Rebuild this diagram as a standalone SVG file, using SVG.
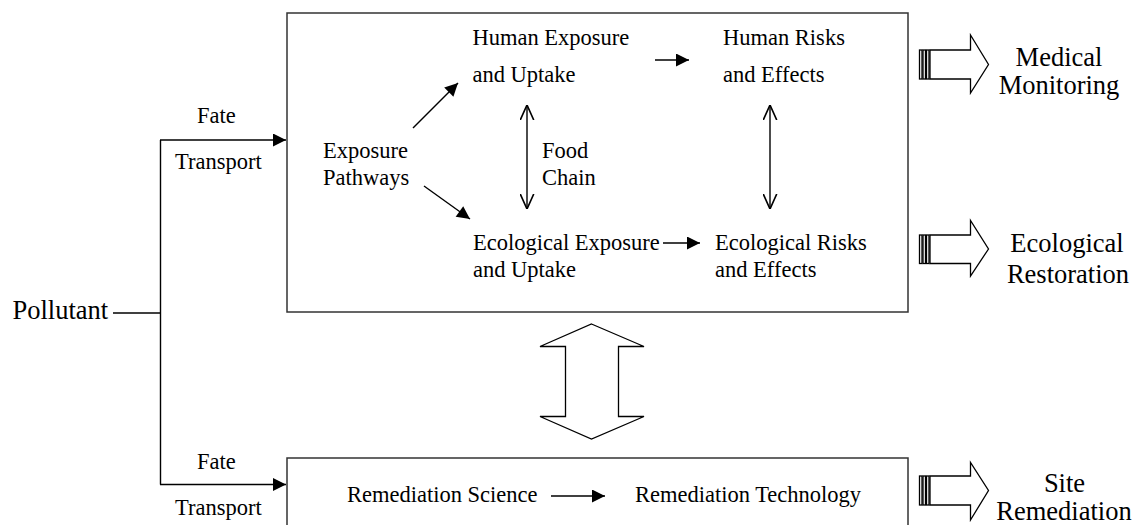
<svg xmlns="http://www.w3.org/2000/svg" width="1134" height="525" viewBox="0 0 1134 525">
<style>
.t{font-family:"Liberation Serif","Times New Roman",serif;font-size:22.5px;fill:#000}
.b{font-family:"Liberation Serif","Times New Roman",serif;font-size:26.5px;fill:#000}
.box{fill:none;stroke:#333;stroke-width:1.5}
.ln{fill:none;stroke:#000;stroke-width:1.4}
.blk{fill:#fff;stroke:#000;stroke-width:1.3}
</style>
<defs>
<marker id="fa" viewBox="0 0 10 10" refX="10" refY="5" markerWidth="16" markerHeight="13" markerUnits="userSpaceOnUse" orient="auto"><path d="M0,0 L10,5 L0,10 z" fill="#000"/></marker>
<marker id="oa" viewBox="0 0 10 10" refX="10" refY="5" markerWidth="15" markerHeight="15" markerUnits="userSpaceOnUse" orient="auto-start-reverse"><path d="M0,0.5 L10,5 L0,9.5" fill="none" stroke="#000" stroke-width="1.1"/></marker>
</defs>

<g id="containers">
<rect id="main-box" class="box" x="287" y="13" width="621" height="299"/>
<rect id="remediation-box" class="box" x="287" y="458" width="621" height="80"/>
</g>

<g id="connectors">
<path class="ln" d="M113,313 H160.5"/>
<path class="ln" d="M160.5,140 V484.5"/>
<path class="ln" d="M160,140 H286" marker-end="url(#fa)"/>
<path class="ln" d="M160,484.5 H286" marker-end="url(#fa)"/>
<path class="ln" d="M413,128 L458,83" marker-end="url(#fa)"/>
<path class="ln" d="M424,186 L470,219" marker-end="url(#fa)"/>
<path class="ln" d="M655,60 H689" marker-end="url(#fa)"/>
<path class="ln" d="M663,243 H700" marker-end="url(#fa)"/>
<path class="ln" d="M551,496 H605" marker-end="url(#fa)"/>
<path class="ln" d="M527,105 V209" marker-start="url(#oa)" marker-end="url(#oa)"/>
<path class="ln" d="M770,105 V209" marker-start="url(#oa)" marker-end="url(#oa)"/>
<polygon id="big-double-arrow" class="blk" points="591.5,324 644,346.5 618.5,346.5 618.5,416.5 644,416.5 591.5,439 540,416.5 565.5,416.5 565.5,346.5 540,346.5"/>
</g>

<g id="node-pollutant"><text class="b" x="12.5" y="318.5">Pollutant</text></g>
<g id="label-fate-top"><text class="t" x="197" y="122.5">Fate</text><text class="t" x="175" y="168.5">Transport</text></g>
<g id="label-fate-bottom"><text class="t" x="197" y="468.5">Fate</text><text class="t" x="175" y="515">Transport</text></g>

<g id="node-exposure-pathways"><text class="t" x="323" y="158">Exposure</text><text class="t" x="323" y="185">Pathways</text></g>
<g id="node-human-exposure"><text class="t" x="472.5" y="45">Human Exposure</text><text class="t" x="472.5" y="81.5">and Uptake</text></g>
<g id="node-human-risks"><text class="t" x="723" y="45">Human Risks</text><text class="t" x="723" y="81.5">and Effects</text></g>
<g id="label-food-chain"><text class="t" x="542" y="158">Food</text><text class="t" x="542" y="185">Chain</text></g>
<g id="node-eco-exposure"><text class="t" x="473" y="250">Ecological Exposure</text><text class="t" x="473" y="277">and Uptake</text></g>
<g id="node-eco-risks"><text class="t" x="715" y="250">Ecological Risks</text><text class="t" x="715" y="277">and Effects</text></g>

<g id="node-rem-science"><text class="t" x="347" y="502">Remediation Science</text></g>
<g id="node-rem-tech"><text class="t" x="635" y="502">Remediation Technology</text></g>

<g id="out-medical">
<rect class="blk" x="919.5" y="50" width="2.5" height="29"/>
<rect class="blk" x="923" y="50" width="2.5" height="29"/>
<rect class="blk" x="926.5" y="50" width="2.5" height="29"/>
<polygon class="blk" points="930,50 970.5,50 970.5,35 988.5,64.5 970.5,93 970.5,79 930,79"/>
<text class="b" x="1059" y="66" text-anchor="middle">Medical</text>
<text class="b" x="1059" y="94" text-anchor="middle">Monitoring</text>
</g>
<g id="out-ecological">
<rect class="blk" x="919.5" y="235" width="2.5" height="28.5"/>
<rect class="blk" x="923" y="235" width="2.5" height="28.5"/>
<rect class="blk" x="926.5" y="235" width="2.5" height="28.5"/>
<polygon class="blk" points="930,235 970.5,235 970.5,220.5 988.5,249 970.5,276 970.5,263.5 930,263.5"/>
<text class="b" x="1067" y="251.5" text-anchor="middle">Ecological</text>
<text class="b" x="1068" y="282.5" text-anchor="middle">Restoration</text>
</g>
<g id="out-site">
<rect class="blk" x="919.5" y="476" width="2.5" height="29"/>
<rect class="blk" x="923" y="476" width="2.5" height="29"/>
<rect class="blk" x="926.5" y="476" width="2.5" height="29"/>
<polygon class="blk" points="930,476 970.5,476 970.5,462.5 988.5,490.5 970.5,520 970.5,505 930,505"/>
<text class="b" x="1064.5" y="491.5" text-anchor="middle">Site</text>
<text class="b" x="1064" y="519.5" text-anchor="middle">Remediation</text>
</g>
</svg>
